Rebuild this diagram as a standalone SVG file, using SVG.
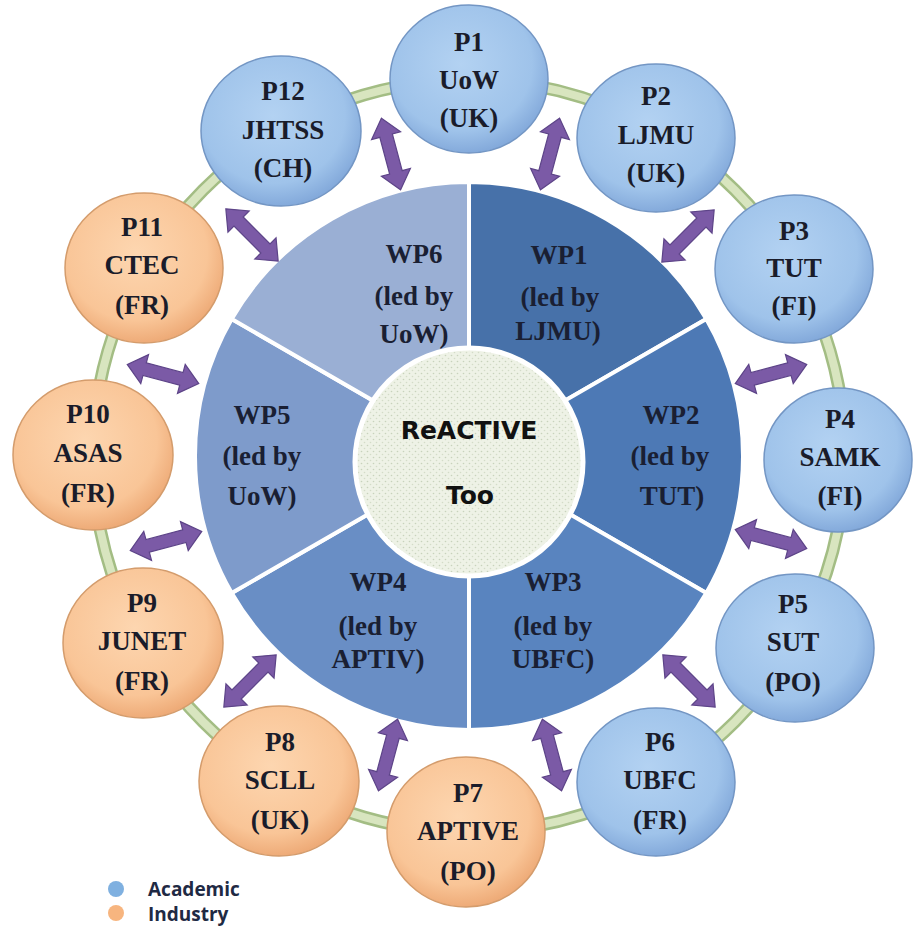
<svg xmlns="http://www.w3.org/2000/svg" xmlns:xlink="http://www.w3.org/1999/xlink" width="915" height="934" viewBox="0 0 915 934">
<style>
.pt{font-family:"Liberation Serif","Tinos","Times New Roman","DejaVu Serif",serif;font-weight:bold;font-size:27px;fill:#1a1c2a;text-anchor:middle}
.wp{font-family:"Liberation Serif","Tinos","Times New Roman","DejaVu Serif",serif;font-weight:bold;font-size:27px;fill:#1a1f33;text-anchor:middle}
.ctr{font-family:"DejaVu Sans","Verdana",sans-serif;font-weight:bold;font-size:25px;fill:#111;text-anchor:middle}
.lg{font-family:"Open Sans","Liberation Sans",sans-serif;font-weight:bold;font-size:19px;fill:#1f2a44}
.sec{stroke:#fff;stroke-width:4;stroke-linejoin:round}
.ac{fill:url(#gBlue);stroke:#7396c4;stroke-width:1.5}
.in{fill:url(#gOrange);stroke:#d49c6c;stroke-width:1.5}
.arr{fill:#7b5aa6;stroke:#5d4488;stroke-width:1.2}
</style>
<defs>
<radialGradient id="gBlue" cx="0.45" cy="0.4" r="0.6">
<stop offset="0" stop-color="#b3d2f2"/>
<stop offset="0.75" stop-color="#9fc3ea"/>
<stop offset="1" stop-color="#84aadb"/>
</radialGradient>
<radialGradient id="gOrange" cx="0.45" cy="0.4" r="0.6">
<stop offset="0" stop-color="#fdd6b0"/>
<stop offset="0.75" stop-color="#f9c597"/>
<stop offset="1" stop-color="#eeab78"/>
</radialGradient>
<pattern id="dots" width="6" height="6" patternUnits="userSpaceOnUse">
<rect width="6" height="6" fill="#eef2e6"/>
<circle cx="1.5" cy="1.5" r="0.8" fill="#c8d2bc"/>
<circle cx="4.5" cy="4.5" r="0.8" fill="#d3dcc8"/>
</pattern>
<path id="arw" d="M -37 0 L -19 -15 L -19 -6.5 L 19 -6.5 L 19 -15 L 37 0 L 19 15 L 19 6.5 L -19 6.5 L -19 15 Z"/>
</defs>
<rect width="915" height="934" fill="#fff"/>

<!-- ring -->
<g id="ring">
<circle cx="469" cy="456" r="376" fill="none" stroke="#a3bd84" stroke-width="13"/>
<circle cx="469" cy="456" r="376" fill="none" stroke="#d8e5bf" stroke-width="8"/>
</g>

<!-- pie sectors -->
<g id="WP1"><path class="sec" fill="#4771a9" d="M469 456 L469 182 A274 274 0 0 1 706.3 319 Z"/>
<text class="wp" x="559" y="264">WP1</text><text class="wp" x="560" y="306">(led by</text><text class="wp" x="558" y="340">LJMU)</text></g>
<g id="WP2"><path class="sec" fill="#4d79b5" d="M469 456 L706.3 319 A274 274 0 0 1 706.3 593 Z"/>
<text class="wp" x="671" y="424">WP2</text><text class="wp" x="670" y="465">(led by</text><text class="wp" x="672" y="505">TUT)</text></g>
<g id="WP3"><path class="sec" fill="#5984bf" d="M469 456 L706.3 593 A274 274 0 0 1 469 730 Z"/>
<text class="wp" x="553" y="591">WP3</text><text class="wp" x="553" y="635">(led by</text><text class="wp" x="553" y="668">UBFC)</text></g>
<g id="WP4"><path class="sec" fill="#698ec5" d="M469 456 L469 730 A274 274 0 0 1 231.7 593 Z"/>
<text class="wp" x="378" y="591">WP4</text><text class="wp" x="378" y="635">(led by</text><text class="wp" x="378" y="668">APTIV)</text></g>
<g id="WP5"><path class="sec" fill="#7e9bcb" d="M469 456 L231.7 593 A274 274 0 0 1 231.7 319 Z"/>
<text class="wp" x="262" y="424">WP5</text><text class="wp" x="262" y="465">(led by</text><text class="wp" x="262" y="505">UoW)</text></g>
<g id="WP6"><path class="sec" fill="#9aafd4" d="M469 456 L231.7 319 A274 274 0 0 1 469 182 Z"/>
<text class="wp" x="414" y="263">WP6</text><text class="wp" x="414" y="305">(led by</text><text class="wp" x="414" y="343">UoW)</text></g>

<!-- center -->
<g id="center">
<circle cx="469" cy="462" r="114" fill="url(#dots)" stroke="#fff" stroke-width="5"/>
<text class="ctr" x="469" y="439">ReACTIVE</text>
<text class="ctr" x="470" y="504">Too</text>
</g>

<!-- connectors -->
<g id="connectors">
<use href="#arw" class="arr" transform="translate(550,154) rotate(-75)"/>
<use href="#arw" class="arr" transform="translate(688,236) rotate(-45)"/>
<use href="#arw" class="arr" transform="translate(771,374) rotate(-15)"/>
<use href="#arw" class="arr" transform="translate(771,539) rotate(15)"/>
<use href="#arw" class="arr" transform="translate(689,681) rotate(45)"/>
<use href="#arw" class="arr" transform="translate(552,755) rotate(75)"/>
<use href="#arw" class="arr" transform="translate(388,755) rotate(-75)"/>
<use href="#arw" class="arr" transform="translate(250,681) rotate(-45)"/>
<use href="#arw" class="arr" transform="translate(166,541) rotate(-15)"/>
<use href="#arw" class="arr" transform="translate(163,374) rotate(15)"/>
<use href="#arw" class="arr" transform="translate(252,235) rotate(45)"/>
<use href="#arw" class="arr" transform="translate(391,154) rotate(75)"/>
</g>

<!-- partners -->
<g id="P1"><ellipse class="ac" cx="469" cy="79" rx="79" ry="74"/>
<text class="pt" x="469" y="51">P1</text><text class="pt" x="469" y="89">UoW</text><text class="pt" x="469" y="127">(UK)</text></g>
<g id="P2"><ellipse class="ac" cx="656" cy="138" rx="79" ry="74"/>
<text class="pt" x="656" y="105">P2</text><text class="pt" x="656" y="144">LJMU</text><text class="pt" x="656" y="182">(UK)</text></g>
<g id="P3"><ellipse class="ac" cx="794" cy="269" rx="79" ry="74"/>
<text class="pt" x="794" y="240">P3</text><text class="pt" x="794" y="277">TUT</text><text class="pt" x="794" y="315">(FI)</text></g>
<g id="P4"><ellipse class="ac" cx="838" cy="460" rx="74" ry="72"/>
<text class="pt" x="840" y="428">P4</text><text class="pt" x="840" y="466">SAMK</text><text class="pt" x="840" y="505">(FI)</text></g>
<g id="P5"><ellipse class="ac" cx="795" cy="648" rx="79" ry="74"/>
<text class="pt" x="793" y="613">P5</text><text class="pt" x="793" y="651">SUT</text><text class="pt" x="793" y="691">(PO)</text></g>
<g id="P6"><ellipse class="ac" cx="656" cy="782" rx="79" ry="74"/>
<text class="pt" x="660" y="751">P6</text><text class="pt" x="660" y="789">UBFC</text><text class="pt" x="660" y="829">(FR)</text></g>
<g id="P7"><ellipse class="in" cx="466" cy="832" rx="79" ry="75"/>
<text class="pt" x="468" y="802">P7</text><text class="pt" x="468" y="840">APTIVE</text><text class="pt" x="468" y="880">(PO)</text></g>
<g id="P8"><ellipse class="in" cx="279" cy="781" rx="80" ry="75"/>
<text class="pt" x="280" y="751">P8</text><text class="pt" x="280" y="789">SCLL</text><text class="pt" x="280" y="829">(UK)</text></g>
<g id="P9"><ellipse class="in" cx="143" cy="643" rx="80" ry="75"/>
<text class="pt" x="142" y="612">P9</text><text class="pt" x="142" y="650">JUNET</text><text class="pt" x="142" y="690">(FR)</text></g>
<g id="P10"><ellipse class="in" cx="93" cy="455" rx="80" ry="75"/>
<text class="pt" x="88" y="423">P10</text><text class="pt" x="88" y="462">ASAS</text><text class="pt" x="88" y="502">(FR)</text></g>
<g id="P11"><ellipse class="in" cx="144" cy="268" rx="79" ry="75"/>
<text class="pt" x="142" y="236">P11</text><text class="pt" x="142" y="274">CTEC</text><text class="pt" x="142" y="314">(FR)</text></g>
<g id="P12"><ellipse class="ac" cx="281" cy="131" rx="80" ry="75"/>
<text class="pt" x="283" y="100">P12</text><text class="pt" x="283" y="139">JHTSS</text><text class="pt" x="283" y="177">(CH)</text></g>

<!-- legend -->
<g id="legend">
<circle cx="116" cy="889" r="8" fill="#7fb0e0"/>
<text class="lg" x="148" y="896">Academic</text>
<circle cx="116" cy="913" r="8" fill="#f7b57f"/>
<text class="lg" x="148" y="921">Industry</text>
</g>
</svg>
